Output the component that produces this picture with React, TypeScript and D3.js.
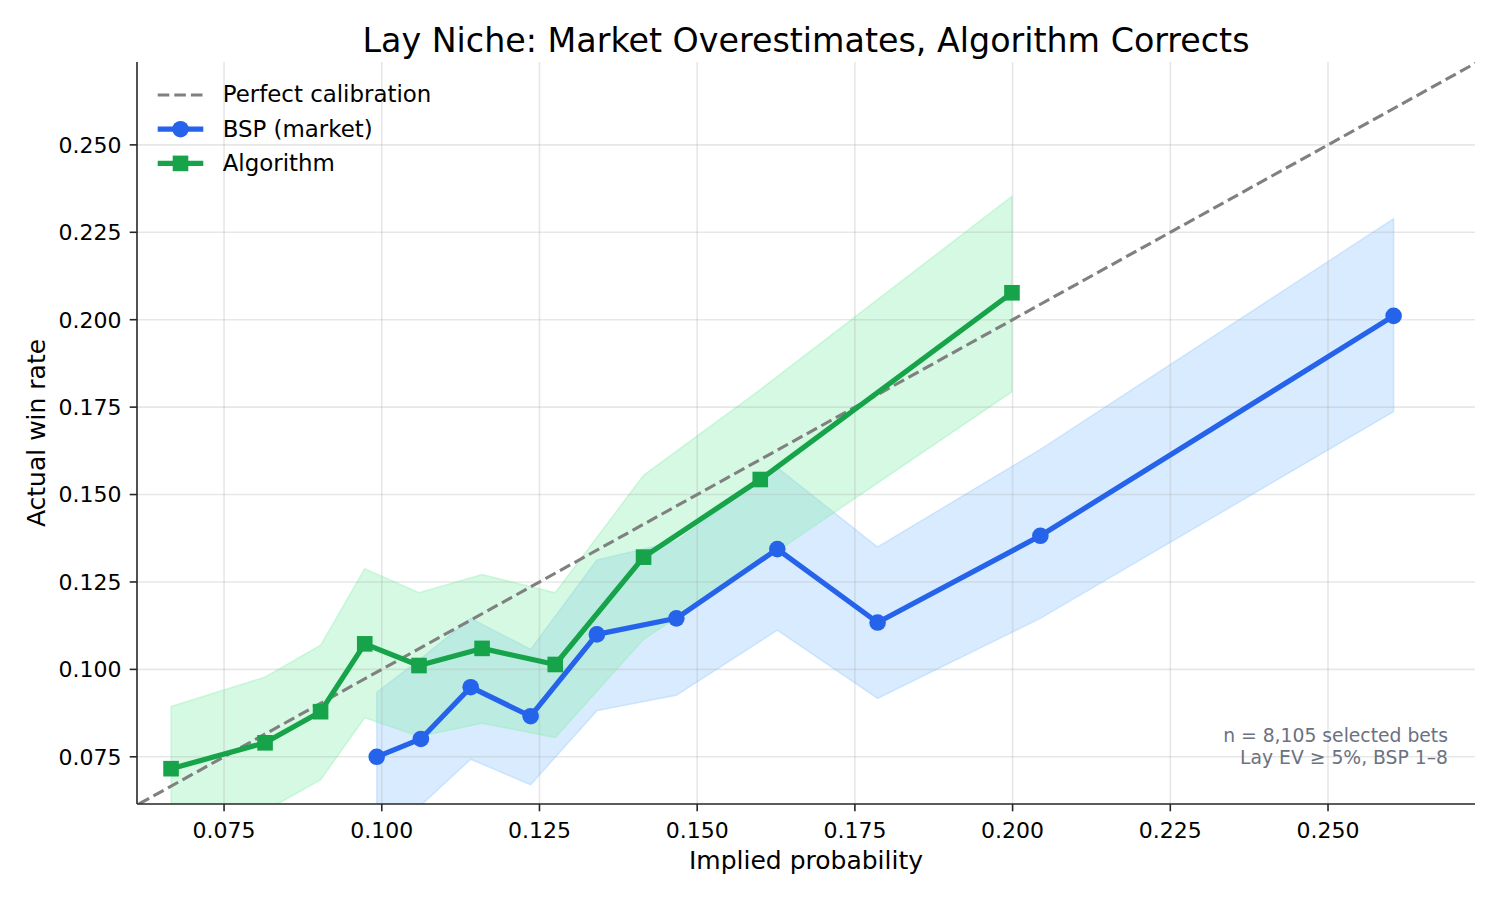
import React, { useRef, useEffect } from 'react';
import * as d3 from 'd3';

// BSP (market) calibration bins
const bspProb = [0.0992, 0.1062, 0.1141, 0.1236, 0.1341, 0.1467, 0.1627, 0.1786, 0.2044, 0.2604];
const bspWin = [0.0750, 0.0801, 0.0949, 0.0866, 0.1100, 0.1146, 0.1344, 0.1134, 0.1382, 0.2011];
const bspLo = [0.048, 0.0611, 0.0743, 0.0670, 0.0882, 0.0926, 0.1112, 0.0917, 0.1146, 0.1737];
const bspHi = [0.0934, 0.1031, 0.1146, 0.1057, 0.1313, 0.1366, 0.1577, 0.1350, 0.1629, 0.2289];

// Algorithm calibration bins
const algoProb = [0.0666, 0.0815, 0.0903, 0.0973, 0.1059, 0.1159, 0.1275, 0.1415, 0.1600, 0.1999];
const algoWin = [0.0716, 0.0790, 0.0879, 0.1073, 0.1011, 0.1060, 0.1014, 0.1321, 0.1543, 0.2077];
const algoLo = [0.050, 0.0595, 0.0684, 0.0862, 0.0808, 0.0846, 0.0805, 0.1086, 0.1305, 0.1794];
const algoHi = [0.0894, 0.0978, 0.1069, 0.1288, 0.1219, 0.1271, 0.1219, 0.1555, 0.1800, 0.2353];

const xTicks = [0.075, 0.1, 0.125, 0.15, 0.175, 0.2, 0.225, 0.25];
const yTicks = [0.075, 0.1, 0.125, 0.15, 0.175, 0.2, 0.225, 0.25];

const legendItems = ['Perfect calibration', 'BSP (market)', 'Algorithm'];
const noteLines = ['n = 8,105 selected bets', 'Lay EV \u2265 5%, BSP 1\u20138'];

interface Bin {
  p: number;
  w: number;
  lo: number;
  hi: number;
}

const zip = (p: number[], w: number[], lo: number[], hi: number[]): Bin[] =>
  p.map((v, i) => ({ p: v, w: w[i], lo: lo[i], hi: hi[i] }));

const BLUE = '#2563eb';
const GREEN = '#16a34a';
const FONT = '"DejaVu Sans", sans-serif';

const App: React.FC = () => {
  const ref = useRef<SVGSVGElement | null>(null);

  useEffect(() => {
    if (!ref.current) return;
    const svg = d3.select(ref.current);
    svg.selectAll('*').remove();

    const width = 1500;
    const height = 900;
    const left = 137;
    const right = 1475;
    const top = 62;
    const bottom = 804;

    const x = d3.scaleLinear().domain([0.0612, 0.2733]).range([left, right]);
    const y = d3.scaleLinear().domain([0.0615, 0.2737]).range([bottom, top]);

    svg.attr('width', width).attr('height', height).style('font-family', FONT);

    svg.append('defs').append('clipPath').attr('id', 'plot-clip')
      .append('rect')
      .attr('x', left).attr('y', top)
      .attr('width', right - left).attr('height', bottom - top);

    const plot = svg.append('g').attr('clip-path', 'url(#plot-clip)');

    const bsp = zip(bspProb, bspWin, bspLo, bspHi);
    const algo = zip(algoProb, algoWin, algoLo, algoHi);

    const band = d3.area<Bin>()
      .x(d => x(d.p))
      .y0(d => y(d.lo))
      .y1(d => y(d.hi));

    const line = d3.line<Bin>()
      .x(d => x(d.p))
      .y(d => y(d.w));

    // confidence bands
    plot.append('path')
      .datum(bsp)
      .attr('d', band)
      .attr('fill', '#93c5fd')
      .attr('fill-opacity', 0.35)
      .attr('stroke', '#93c5fd')
      .attr('stroke-opacity', 0.35)
      .attr('stroke-width', 1.5);

    plot.append('path')
      .datum(algo)
      .attr('d', band)
      .attr('fill', '#86efac')
      .attr('fill-opacity', 0.35)
      .attr('stroke', '#86efac')
      .attr('stroke-opacity', 0.35)
      .attr('stroke-width', 1.5);

    // grid
    plot.append('g')
      .selectAll('line')
      .data(xTicks)
      .join('line')
      .attr('x1', d => x(d)).attr('x2', d => x(d))
      .attr('y1', top).attr('y2', bottom)
      .attr('stroke', '#b0b0b0')
      .attr('stroke-opacity', 0.3)
      .attr('stroke-width', 1.6);

    plot.append('g')
      .selectAll('line')
      .data(yTicks)
      .join('line')
      .attr('y1', d => y(d)).attr('y2', d => y(d))
      .attr('x1', left).attr('x2', right)
      .attr('stroke', '#b0b0b0')
      .attr('stroke-opacity', 0.3)
      .attr('stroke-width', 1.6);

    // perfect calibration diagonal
    const diag = [0.05, 0.3];
    plot.append('line')
      .attr('x1', x(diag[0])).attr('y1', y(diag[0]))
      .attr('x2', x(diag[1])).attr('y2', y(diag[1]))
      .attr('stroke', '#808080')
      .attr('stroke-width', 3.1)
      .attr('stroke-dasharray', '11.6,5');

    // BSP line
    plot.append('path')
      .datum(bsp)
      .attr('d', line)
      .attr('fill', 'none')
      .attr('stroke', BLUE)
      .attr('stroke-width', 5.2)
      .attr('stroke-linejoin', 'round');

    plot.append('g')
      .selectAll('circle')
      .data(bsp)
      .join('circle')
      .attr('cx', d => x(d.p))
      .attr('cy', d => y(d.w))
      .attr('r', 8.3)
      .attr('fill', BLUE);

    // Algorithm line
    plot.append('path')
      .datum(algo)
      .attr('d', line)
      .attr('fill', 'none')
      .attr('stroke', GREEN)
      .attr('stroke-width', 5.2)
      .attr('stroke-linejoin', 'round');

    const sq = 15.6;
    plot.append('g')
      .selectAll('rect')
      .data(algo)
      .join('rect')
      .attr('x', d => x(d.p) - sq / 2)
      .attr('y', d => y(d.w) - sq / 2)
      .attr('width', sq)
      .attr('height', sq)
      .attr('fill', GREEN);

    // spines + ticks
    const axisColor = '#262626';
    svg.append('line')
      .attr('x1', left).attr('x2', left).attr('y1', top).attr('y2', bottom)
      .attr('stroke', axisColor).attr('stroke-width', 1.6);
    svg.append('line')
      .attr('x1', left).attr('x2', right).attr('y1', bottom).attr('y2', bottom)
      .attr('stroke', axisColor).attr('stroke-width', 1.6);

    const fmt = d3.format('.3f');

    const xt = svg.append('g').selectAll('g').data(xTicks).join('g')
      .attr('transform', d => `translate(${x(d)},${bottom})`);
    xt.append('line').attr('y2', 7.3).attr('stroke', axisColor).attr('stroke-width', 1.6);
    xt.append('text')
      .attr('y', 34)
      .attr('text-anchor', 'middle')
      .attr('font-size', 22)
      .attr('fill', '#000')
      .text(d => fmt(d));

    const yt = svg.append('g').selectAll('g').data(yTicks).join('g')
      .attr('transform', d => `translate(${left},${y(d)})`);
    yt.append('line').attr('x2', -7.3).attr('stroke', axisColor).attr('stroke-width', 1.6);
    yt.append('text')
      .attr('x', -15.5)
      .attr('dy', '0.36em')
      .attr('text-anchor', 'end')
      .attr('font-size', 22)
      .attr('fill', '#000')
      .text(d => fmt(d));

    // labels
    svg.append('text')
      .attr('x', (left + right) / 2)
      .attr('y', 51.5)
      .attr('text-anchor', 'middle')
      .attr('font-size', 33.3)
      .attr('fill', '#000')
      .text('Lay Niche: Market Overestimates, Algorithm Corrects');

    svg.append('text')
      .attr('x', (left + right) / 2)
      .attr('y', 869)
      .attr('text-anchor', 'middle')
      .attr('font-size', 25)
      .attr('fill', '#000')
      .text('Implied probability');

    svg.append('text')
      .attr('transform', `translate(45,${(top + bottom) / 2}) rotate(-90)`)
      .attr('text-anchor', 'middle')
      .attr('font-size', 25)
      .attr('fill', '#000')
      .text('Actual win rate');

    // annotation
    svg.append('g')
      .selectAll('text')
      .data(noteLines)
      .join('text')
      .attr('x', 1448)
      .attr('y', (_, i) => 742 + i * 21.6)
      .attr('text-anchor', 'end')
      .attr('font-size', 18.75)
      .attr('fill', '#6b7280')
      .text(d => d);

    // legend
    const lg = svg.append('g');
    const rowY = (i: number) => 95 + i * 34.2;
    const hx0 = 157.7;
    const hx1 = 203.3;
    const hxc = (hx0 + hx1) / 2;

    legendItems.forEach((label, i) => {
      const row = lg.append('g').attr('transform', `translate(0,${rowY(i)})`);
      if (i === 0) {
        row.append('line')
          .attr('x1', hx0).attr('x2', hx1)
          .attr('stroke', '#808080')
          .attr('stroke-width', 3.1)
          .attr('stroke-dasharray', '11.6,5');
      } else {
        const c = i === 1 ? BLUE : GREEN;
        row.append('line')
          .attr('x1', hx0).attr('x2', hx1)
          .attr('stroke', c)
          .attr('stroke-width', 5.2);
        if (i === 1) {
          row.append('circle').attr('cx', hxc).attr('r', 8.3).attr('fill', c);
        } else {
          row.append('rect')
            .attr('x', hxc - sq / 2).attr('y', -sq / 2)
            .attr('width', sq).attr('height', sq)
            .attr('fill', c);
        }
      }
      row.append('text')
        .attr('x', 222.7)
        .attr('dy', '0.32em')
        .attr('font-size', 22.9)
        .attr('fill', '#000')
        .text(label);
    });
  }, []);

  return (
    <>
      <style>{'body{margin:0}'}</style>
      <svg ref={ref} />
    </>
  );
};

export default App;
